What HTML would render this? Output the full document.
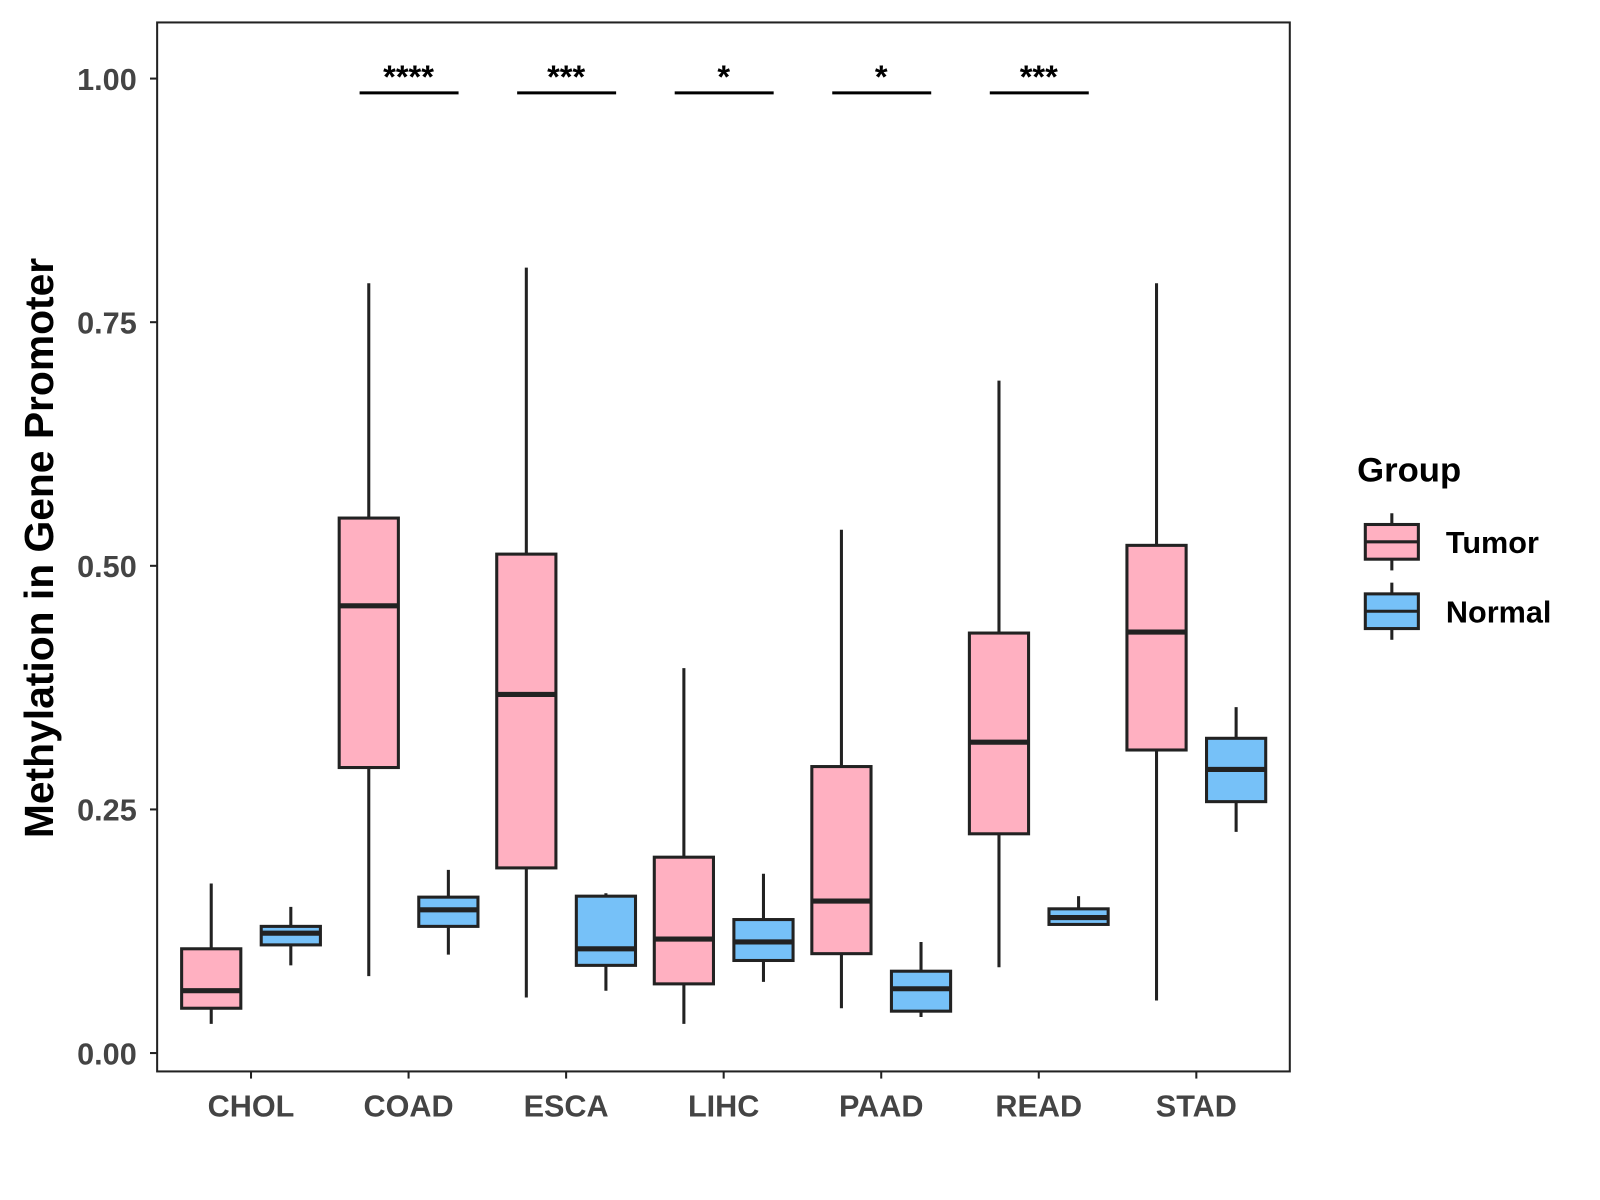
<!DOCTYPE html>
<html><head><meta charset="utf-8"><style>body{margin:0;background:#fff}svg{font-family:"Liberation Sans",Arial,sans-serif;display:block}</style></head>
<body>
<svg id="chart" width="1600" height="1200" viewBox="0 0 1568 1176" xmlns="http://www.w3.org/2000/svg">
<rect x="154" y="22" width="1110" height="1028" fill="#fff" stroke="#222" stroke-width="2"/>
<g id="marks"></g>
<text x="52" y="537" transform="rotate(-90 52 537)" text-anchor="middle" font-size="40" font-weight="bold" fill="#000">Methylation in Gene Promoter</text>
<g>
<text x="1330" y="472" font-size="34" font-weight="bold">Group</text>
<g>
<line x1="1364" y1="503" x2="1364" y2="559" stroke="#222" stroke-width="3"/>
<rect x="1338" y="514" width="52" height="34" fill="#FFB0C1" stroke="#222" stroke-width="3"/>
<line x1="1338" y1="531" x2="1390" y2="531" stroke="#222" stroke-width="3"/>
<text x="1417" y="542" font-size="30" font-weight="bold">Tumor</text></g>
<g>
<line x1="1364" y1="571" x2="1364" y2="627" stroke="#222" stroke-width="3"/>
<rect x="1338" y="582" width="52" height="34" fill="#76C1F8" stroke="#222" stroke-width="3"/>
<line x1="1338" y1="599" x2="1390" y2="599" stroke="#222" stroke-width="3"/>
<text x="1417" y="610" font-size="30" font-weight="bold">Normal</text></g>
</g>
</svg>
<script>
const categories=["CHOL","COAD","ESCA","LIHC","PAAD","READ","STAD"];
const tumorStats=[[0.030,0.046,0.064,0.107,0.174],[0.079,0.293,0.459,0.549,0.790],[0.057,0.190,0.368,0.512,0.806],[0.030,0.071,0.117,0.201,0.395],[0.046,0.102,0.156,0.294,0.537],[0.088,0.225,0.319,0.431,0.690],[0.054,0.311,0.432,0.521,0.790]];
const normalStats=[[0.090,0.111,0.123,0.130,0.150],[0.101,0.130,0.147,0.160,0.188],[0.064,0.090,0.107,0.161,0.164],[0.073,0.095,0.114,0.137,0.184],[0.037,0.043,0.066,0.084,0.114],[0.132,0.132,0.139,0.148,0.161],[0.227,0.258,0.291,0.323,0.355]];
const sigLabels=["","****","***","*","*","***",""];
const yTicks=[0,0.25,0.5,0.75,1.0];
const yTickLabels=["0.00","0.25","0.50","0.75","1.00"];
const NS="http://www.w3.org/2000/svg";
const g=document.getElementById('marks');
const y=v=>1032-v*955;
const x=i=>246+i*154.4;
function mk(t,a,parent){const e=document.createElementNS(NS,t);for(const k in a)e.setAttribute(k,a[k]);(parent||g).appendChild(e);return e;}
yTicks.forEach((t,i)=>{
 const l=mk('line',{x1:147,x2:154,y1:y(t),y2:y(t),stroke:'#222','stroke-width':2});
 
 
 const tx=mk('text',{x:134,y:y(t)+11,'text-anchor':'end','font-size':30,'font-weight':'bold',fill:'#444'});
 tx.textContent=yTickLabels[i];
 
 
});
function box(cx,s,fill,name){
 const gg=mk('g',{});
 
 
 mk('line',{x1:cx,x2:cx,y1:y(s[4]),y2:y(s[0]),stroke:'#222','stroke-width':3},gg);
 mk('rect',{x:cx-29,y:y(s[3]),width:58,height:Math.max(1,y(s[1])-y(s[3])),fill:fill,stroke:'#222','stroke-width':3},gg);
 mk('line',{x1:cx-29,x2:cx+29,y1:y(s[2]),y2:y(s[2]),stroke:'#222','stroke-width':5},gg);
}
categories.forEach((c,i)=>{
 const cx=x(i);
 box(cx-39,tumorStats[i],'#FFB0C1','box-'+c.toLowerCase()+'-tumor');
 box(cx+39,normalStats[i],'#76C1F8','box-'+c.toLowerCase()+'-normal');
 const tk=mk('line',{x1:cx,x2:cx,y1:1050,y2:1057,stroke:'#222','stroke-width':2});
 
 
 const tl=mk('text',{x:cx,y:1094,'text-anchor':'middle','font-size':30,'font-weight':'bold',fill:'#444'});
 tl.textContent=c;
 
 
 if(sigLabels[i]){
  const b=mk('line',{x1:cx-48,x2:cx+49,y1:91,y2:91,stroke:'#000','stroke-width':3});
  
  
  const st=mk('text',{x:cx,y:86,'text-anchor':'middle','font-size':32,'font-weight':'bold',fill:'#000'});
  st.textContent=sigLabels[i];
  
  
 }
});
</script>
</body></html>
